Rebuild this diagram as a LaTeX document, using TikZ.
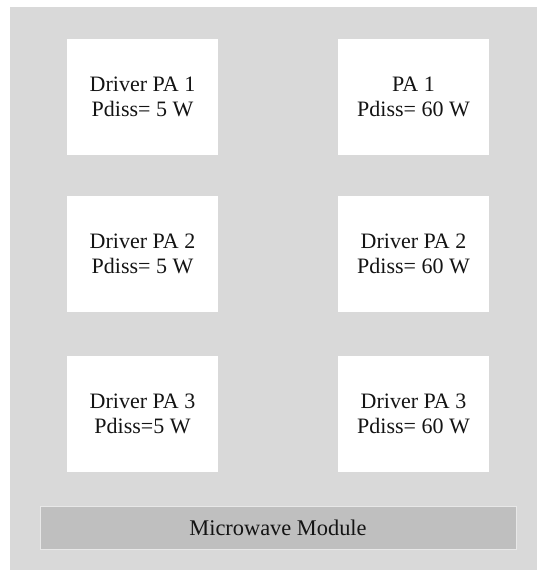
\documentclass[tikz,border=0pt]{standalone}
\usepackage{fontspec}
\setmainfont{Liberation Serif}
\begin{document}
\begin{tikzpicture}[x=1pt,y=-1pt,
  pabox/.style={fill=white,draw=none,minimum width=151pt,minimum height=116pt,
    inner sep=0pt,align=center,text=black!92,
    font=\fontsize{22}{25}\selectfont},
  modbar/.style={fill=bargray,draw=barline,line width=1pt,minimum width=476pt,
    minimum height=43pt,inner sep=0pt,text=black!92,
    font=\fontsize{22.4}{25}\selectfont}]
\definecolor{panelgray}{RGB}{217,217,217}
\definecolor{bargray}{RGB}{191,191,191}
\definecolor{barline}{RGB}{232,232,232}
% page and grey housing
\useasboundingbox[fill=white] (0,0) rectangle (537,570);
\fill[panelgray] (10,7) rectangle (537,570);
% amplifier blocks
\node[pabox] (dpa1) at (142.5,97) {Driver PA 1\\Pdiss= 5 W};
\node[pabox] (pa1)  at (413.5,97) {PA 1\\Pdiss= 60 W};
\node[pabox] (dpa2) at (142.5,254) {Driver PA 2\\Pdiss= 5 W};
\node[pabox] (dpa2b) at (413.5,254) {Driver PA 2\\Pdiss= 60 W};
\node[pabox] (dpa3) at (142.5,413.5) {Driver PA 3\\Pdiss=5 W};
\node[pabox] (dpa3b) at (413.5,413.5) {Driver PA 3\\Pdiss= 60 W};
% module bar
\node[modbar] (mod) at (278,527.5) {Microwave Module};
\end{tikzpicture}
\end{document}
